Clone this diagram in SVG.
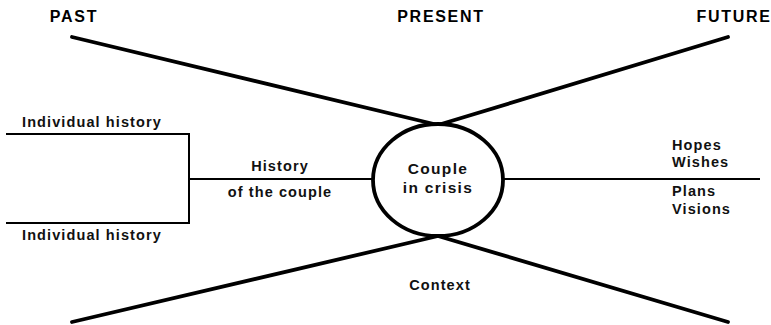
<svg xmlns="http://www.w3.org/2000/svg" width="771" height="325" viewBox="0 0 771 325">
  <style>
    .lbl { font-family: "Liberation Sans", Arial, sans-serif; font-weight: bold; font-size: 14.5px; fill: #111; letter-spacing: 1.1px; }
    .head { font-size: 16px; letter-spacing: 1.7px; fill: #000; }
    .big { font-size: 15.5px; letter-spacing: 1.3px; }
    .mid { text-anchor: middle; }
    .axis { stroke: #000; stroke-width: 3.8; fill: none; stroke-linecap: round; }
    .thin { stroke: #000; stroke-width: 2; fill: none; }
  </style>

  <!-- time axes crossing at the couple -->
  <g id="connectors">
    <line class="axis" x1="72" y1="37" x2="438" y2="125"/>
    <line class="axis" x1="728" y1="37" x2="438" y2="125"/>
    <line class="axis" x1="72" y1="322" x2="438" y2="236"/>
    <line class="axis" x1="728" y1="322" x2="438" y2="236"/>
    <!-- individual histories joining into the couple's history -->
    <polyline class="thin" points="6,134 189,134 189,223 6,223"/>
    <line class="thin" x1="189" y1="179" x2="373" y2="179"/>
    <line class="thin" x1="503" y1="179" x2="760" y2="179"/>
  </g>

  <g id="past"><text class="lbl head mid" x="74" y="22">PAST</text></g>
  <g id="present"><text class="lbl head mid" x="441" y="22">PRESENT</text></g>
  <g id="future"><text class="lbl head mid" x="734" y="22">FUTURE</text></g>

  <g id="individual-top"><text class="lbl" x="22" y="127">Individual history</text></g>
  <g id="individual-bottom"><text class="lbl" x="22" y="240">Individual history</text></g>

  <g id="couple-history">
    <text class="lbl mid" x="280" y="171">History</text>
    <text class="lbl mid" x="280" y="197">of the couple</text>
  </g>

  <g id="couple">
    <ellipse cx="438" cy="180" rx="65" ry="56" fill="#fff" stroke="#000" stroke-width="3.8"/>
    <text class="lbl big mid" x="438" y="174">Couple</text>
    <text class="lbl big mid" x="438" y="193">in crisis</text>
  </g>

  <g id="future-hopes">
    <text class="lbl" x="672" y="150">Hopes</text>
    <text class="lbl" x="672" y="167">Wishes</text>
    <text class="lbl" x="672" y="196">Plans</text>
    <text class="lbl" x="672" y="214">Visions</text>
  </g>

  <g id="context"><text class="lbl mid" x="440" y="290">Context</text></g>
</svg>
